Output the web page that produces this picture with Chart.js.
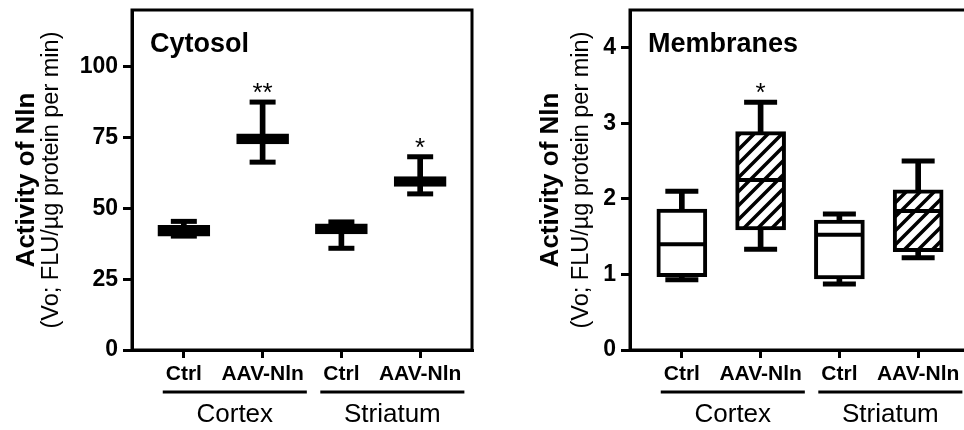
<!DOCTYPE html>
<html>
<head>
<meta charset="utf-8">
<script src="https://cdn.jsdelivr.net/npm/chart.js@4.4.1/dist/chart.umd.min.js"></script>
<style>
  html, body { margin: 0; padding: 0; background: #fff; overflow: hidden; width: 964px; height: 430px; }
  canvas { position: absolute; top: 0; }
</style>
</head>
<body>
<canvas id="cytosolChart" width="482" height="430" style="left:0"></canvas>
<canvas id="membraneChart" width="498" height="430" style="left:482px"></canvas>
<script>
const groups = ['Ctrl', 'AAV-Nln', 'Ctrl', 'AAV-Nln'];
const regions = ['Cortex', 'Striatum'];

// Cytosol boxes
const cytosolMin = [40.2, 66.3, 35.9, 55.1];
const cytosolQ1 = [40.2, 72.7, 41.0, 57.7];
const cytosolMedian = [42.0, 74.5, 42.8, 59.5];
const cytosolQ3 = [44.0, 76.3, 44.5, 61.2];
const cytosolMax = [45.4, 87.5, 45.2, 68.2];
const cytosolStars = ['', '**', '', '*'];
const cytosolTicks = [0, 25, 50, 75, 100];

// Membranes boxes
const membraneMin = [0.93, 1.335, 0.875, 1.22];
const membraneQ1 = [0.97, 1.59, 0.94, 1.30];
const membraneMedian = [1.40, 2.25, 1.525, 1.84];
const membraneQ3 = [1.865, 2.89, 1.72, 2.12];
const membraneMax = [2.10, 3.28, 1.80, 2.50];
const membraneStars = ['', '*', '', ''];
const membraneTicks = [0, 1, 2, 3, 4];

const FONT = '"Liberation Sans", Arial, sans-serif';

function makeHatch() {
    const c = document.createElement('canvas');
    c.width = 14; c.height = 14;
    const g = c.getContext('2d');
    g.fillStyle = '#fff';
    g.fillRect(0, 0, 14, 14);
    g.strokeStyle = '#000';
    g.lineWidth = 3.5;
    g.beginPath();
    g.moveTo(-7, 7); g.lineTo(7, -7);
    g.moveTo(0, 14); g.lineTo(14, 0);
    g.moveTo(7, 21); g.lineTo(21, 7);
    g.stroke();
    return g.createPattern(c, 'repeat');
}

function decorPlugin(opts) {
    return {
        id: 'decor',
        afterDraw(chart) {
            const ctx = chart.ctx;
            const area = chart.chartArea;
            const xs = chart.scales.x, ys = chart.scales.y;
            ctx.save();
            ctx.strokeStyle = '#000';
            ctx.fillStyle = '#000';
            ctx.lineWidth = 3;
            ctx.strokeRect(area.left, area.top, area.right - area.left, area.bottom - area.top);

            // panel title
            ctx.font = 'bold 27px ' + FONT;
            ctx.textAlign = 'left';
            ctx.textBaseline = 'alphabetic';
            ctx.fillText(opts.title, area.left + 18, 52);

            // significance stars
            ctx.font = '26px ' + FONT;
            ctx.textAlign = 'center';
            opts.stars.forEach((s, i) => {
                if (s) ctx.fillText(s, xs.getPixelForValue(i), ys.getPixelForValue(opts.max[i]) - 1);
            });

            // region brackets
            regions.forEach((r, g) => {
                const i0 = g * 2, i1 = g * 2 + 1;
                ctx.font = 'bold 21px ' + FONT;
                const l = xs.getPixelForValue(i0) - ctx.measureText(groups[i0]).width / 2 - 3;
                const rr = xs.getPixelForValue(i1) + ctx.measureText(groups[i1]).width / 2 + 3;
                ctx.fillRect(l, 390.5, rr - l, 3);
                ctx.font = '26px ' + FONT;
                ctx.fillText(r, (l + rr) / 2, 422);
            });

            // y axis titles
            ctx.textAlign = 'center';
            ctx.save();
            ctx.translate(opts.titleX, 180);
            ctx.rotate(-Math.PI / 2);
            ctx.font = 'bold 26px ' + FONT;
            ctx.fillText('Activity of Nln', 0, 0);
            ctx.restore();
            ctx.save();
            ctx.translate(opts.subX, 180);
            ctx.rotate(-Math.PI / 2);
            ctx.font = '23.5px ' + FONT;
            ctx.fillText('(Vo; FLU/\u00b5g protein per min)', 0, 0);
            ctx.restore();
            ctx.restore();
        }
    };
}

function createPanel(id, p) {
    const pts = arr => arr.map((v, i) => ({ x: i, y: v }));
    const ctx = document.getElementById(id).getContext('2d');
    new Chart(ctx, {
        type: 'bar',
        data: {
            datasets: [
                {
                    type: 'line', showLine: false, order: 1, clip: false,
                    data: pts(p.median),
                    pointStyle: 'line', pointRadius: p.boxWidth / 2 - 2, pointHoverRadius: p.boxWidth / 2 - 2,
                    pointBorderWidth: 4, pointHoverBorderWidth: 4, pointBorderColor: '#000'
                },
                {
                    type: 'line', showLine: false, order: 1, clip: false,
                    data: pts(p.max),
                    pointStyle: 'line', pointRadius: p.capWidth / 2, pointHoverRadius: p.capWidth / 2,
                    pointBorderWidth: 5, pointHoverBorderWidth: 5, pointBorderColor: '#000'
                },
                {
                    type: 'line', showLine: false, order: 1, clip: false,
                    data: pts(p.min),
                    pointStyle: 'line', pointRadius: p.capWidth / 2, pointHoverRadius: p.capWidth / 2,
                    pointBorderWidth: 5, pointHoverBorderWidth: 5, pointBorderColor: '#000'
                },
                {
                    order: 2, grouped: false,
                    data: p.q1.map((v, i) => ({ x: i, y: [v, p.q3[i]] })),
                    backgroundColor: p.fills, borderColor: '#000', borderWidth: 4,
                    borderSkipped: false, barThickness: p.boxWidth
                },
                {
                    order: 3, grouped: false,
                    data: p.min.map((v, i) => ({ x: i, y: [v, p.max[i]] })),
                    backgroundColor: '#000', borderWidth: 0, barThickness: 5
                }
            ]
        },
        options: {
            responsive: false,
            animation: false,
            layout: { autoPadding: false, padding: { left: 0, right: 10, top: 10, bottom: 0 } },
            plugins: { legend: { display: false }, tooltip: { enabled: false } },
            scales: {
                x: {
                    type: 'linear', min: -0.658, max: 3.658, offset: false,
                    afterBuildTicks: s => { s.ticks = groups.map((g, i) => ({ value: i })); },
                    afterFit: s => { s.height = 80; s.paddingLeft = 0; s.paddingRight = 0; },
                    ticks: {
                        callback: (v, i) => groups[i],
                        font: { family: FONT, size: 21, weight: 'bold' },
                        color: '#000', padding: 4, maxRotation: 0, minRotation: 0, autoSkip: false
                    },
                    grid: { display: true, drawOnChartArea: false, drawTicks: true, tickLength: 8, lineWidth: 3, color: '#000', offset: false },
                    border: { display: true, width: 3, color: '#000' }
                },
                y: {
                    min: 0, max: p.yMax,
                    afterBuildTicks: s => { s.ticks = p.ticks.map(v => ({ value: v })); },
                    afterFit: s => { s.width = p.axisWidth; s.paddingTop = 0; s.paddingBottom = 0; },
                    ticks: {
                        font: { family: FONT, size: 23, weight: 'bold' },
                        color: '#000', padding: 5
                    },
                    grid: { display: true, drawOnChartArea: false, drawTicks: true, tickLength: 9, lineWidth: 3, color: '#000' },
                    border: { display: true, width: 3, color: '#000' }
                }
            }
        },
        plugins: [decorPlugin({ title: p.title, stars: p.stars, max: p.max, titleX: p.titleX, subX: p.subX })]
    });
}

const hatch = makeHatch();

createPanel('cytosolChart', {
    title: 'Cytosol',
    min: cytosolMin, q1: cytosolQ1, median: cytosolMedian, q3: cytosolQ3, max: cytosolMax,
    stars: cytosolStars, ticks: cytosolTicks, yMax: 120,
    fills: ['#000', '#000', '#000', '#000'],
    boxWidth: 52, capWidth: 26, axisWidth: 132, titleX: 34, subX: 58
});

createPanel('membraneChart', {
    title: 'Membranes',
    min: membraneMin, q1: membraneQ1, median: membraneMedian, q3: membraneQ3, max: membraneMax,
    stars: membraneStars, ticks: membraneTicks, yMax: 4.5,
    fills: ['#fff', hatch, '#fff', hatch],
    boxWidth: 50, capWidth: 33, axisWidth: 148, titleX: 76, subX: 106
});
</script>
</body>
</html>
